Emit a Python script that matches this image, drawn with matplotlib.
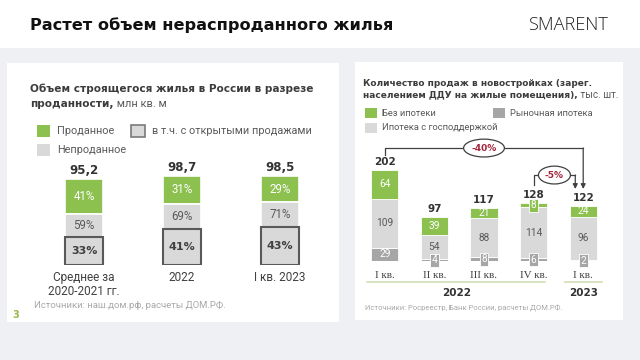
import matplotlib
matplotlib.use("Agg")
import matplotlib.pyplot as plt
from matplotlib.patches import Rectangle
import numpy as np

# ---------------- data ----------------
left_categories = ["Среднее за\n2020-2021 гг.", "2022", "I кв. 2023"]
left_totals = [95.2, 98.7, 98.5]
left_total_labels = ["95,2", "98,7", "98,5"]
sold_pct = [41, 31, 29]
unsold_pct = [59, 69, 71]
open_pct = [33, 41, 43]

quarters = ["I кв.", "II кв.", "III кв.", "IV кв.", "I кв."]
years = ["2022", "2023"]
no_mortgage = [64, 39, 21, 8, 24]
state_mortgage = [109, 54, 88, 114, 96]
market_mortgage = [29, 4, 8, 6, 2]
sales_totals = [202, 97, 117, 128, 122]
changes = ["-40%", "-5%"]

GREEN = '#8cc04f'
LGRAY = '#d9d9d9'
DGRAY = '#a6a6a6'
TXT = '#3c3c3c'
MUTED = '#595959'
REG = ['Roboto', 'DejaVu Sans']

W, H = 640, 360
fig = plt.figure(figsize=(6.4, 3.6), dpi=100)
fig.patch.set_facecolor('#eef0f3')
renderer = fig.canvas.get_renderer()

bg = fig.add_axes([0, 0, 1, 1], zorder=0)
bg.set_xlim(0, W)
bg.set_ylim(H, 0)
bg.axis('off')


def rect(x0, y0, x1, y1, **kw):
    bg.add_patch(Rectangle((x0, y0), x1 - x0, y1 - y0, **kw))


def size_for(s, width, size0=8, **kw):
    t = bg.text(0, 0, s, fontsize=size0, **kw)
    w = t.get_window_extent(renderer).width
    t.remove()
    return size0 * width / w


def fit(x, y, s, width, scale=1.0, **kw):
    return bg.text(x, y, s, fontsize=size_for(s, width, **kw) * scale, va='center', ha='left', **kw)


def after(t, s, size, **kw):
    bb = t.get_window_extent(renderer)
    return bg.text(bb.x1, t.get_position()[1], s, fontsize=size, va='center', ha='left', **kw)


def px_axes(x0, y0, x1, y1):
    a = fig.add_axes([x0 / W, 1 - y1 / H, (x1 - x0) / W, (y1 - y0) / H], zorder=2)
    a.patch.set_alpha(0)
    for sp in a.spines.values():
        sp.set_visible(False)
    a.set_yticks([])
    return a


# ---------------- background cards ----------------
rect(0, 0, 640, 48, fc='white', ec='none')
rect(7, 63, 339, 322, fc='white', ec='none')
rect(355, 62, 623, 320, fc='white', ec='none')

fit(30, 25, "Растет объем нераспроданного жилья", 362, fontweight='bold', color='#111111')
fit(528, 25, "SMARENT", 80, family='Open Sans', fontweight='light', color='#222222')

# ---------------- left panel texts ----------------
t1 = fit(30, 89, "Объем строящегося жилья в России в разрезе", 283, fontweight='bold', color=TXT)
fs_lt = t1.get_fontsize()
t2 = bg.text(30, 104, "проданности,", fontsize=fs_lt, fontweight='bold', color=TXT, va='center')
after(t2, " млн кв. м", fs_lt * 1.05, color=MUTED, family=REG)

lg = fit(152, 131, "в т.ч. с открытыми продажами", 146, scale=1.1, color=MUTED, family=REG)
fs_lg = lg.get_fontsize()
rect(37, 125, 50, 137, fc=GREEN, ec='none')
bg.text(57, 131, "Проданное", fontsize=fs_lg, color=MUTED, va='center', family=REG)
rect(131, 125, 145, 137, fc=LGRAY, ec='#7a7a7a', lw=1.2)
rect(37, 144, 50, 156, fc=LGRAY, ec='none')
bg.text(57, 150, "Непроданное", fontsize=fs_lg, color=MUTED, va='center', family=REG)

fit(34, 306, "Источники: наш.дом.рф, расчеты ДОМ.РФ.", 182, scale=1.05, color='#a8a8a8',
    family=REG)
bg.text(12, 315, "3", fontsize=7, fontweight='bold', color='#9ab84a', va='center')

# ---------------- right panel texts ----------------
r1 = fit(363, 83, "Количество продаж в новостройках (зарег.", 229, fontweight='bold', color=TXT)
fs_rt = r1.get_fontsize()
r2 = bg.text(363, 95, "населением ДДУ на жилые помещения),", fontsize=fs_rt, fontweight='bold',
             color=TXT, va='center')
after(r2, " тыс. шт.", fs_rt * 1.1, color=MUTED, family=REG)

rl = fit(382, 128, "Ипотека с господдержкой", 102, scale=1.15, color=MUTED, family=REG)
fs_rl = rl.get_fontsize()
rect(365, 108, 377, 118, fc=GREEN, ec='none')
bg.text(382, 113, "Без ипотеки", fontsize=fs_rl, color=MUTED, va='center', family=REG)
rect(493, 108, 505, 118, fc=DGRAY, ec='none')
bg.text(510, 113, "Рыночная ипотека", fontsize=fs_rl, color=MUTED, va='center', family=REG)
rect(365, 123, 377, 133, fc=LGRAY, ec='none')

fit(365, 308, "Источники: Росреестр, Банк России, расчеты ДОМ.РФ.", 189, scale=1.05,
    color='#a8a8a8', family=REG)

# ---------------- left chart ----------------
L_SCALE = 0.9  # px per unit
ax1 = px_axes(35, 165, 329, 265)
ax1.set_xlim(-0.5, 2.5)
ax1.set_ylim(0, 100 / L_SCALE)
xl = np.arange(len(left_totals))
tot = np.array(left_totals)
open_h = tot * np.array(open_pct) / 100
gray_h = tot * (np.array(unsold_pct) - np.array(open_pct)) / 100
green_h = tot * np.array(sold_pct) / 100
bw = 0.39
ax1.bar(xl, green_h, bottom=open_h + gray_h, width=bw, color=GREEN, edgecolor='white', linewidth=1.2)
ax1.bar(xl, gray_h, bottom=open_h, width=bw, color=LGRAY, edgecolor='white', linewidth=1.2)
ax1.bar(xl, open_h, width=bw, color=LGRAY, edgecolor='#595959', linewidth=1.5)
for i in xl:
    ax1.text(i, open_h[i] + gray_h[i] + green_h[i] / 2, f"{sold_pct[i]}%", color='white',
             ha='center', va='center', fontsize=8.3, family=REG)
    ax1.text(i, open_h[i] + gray_h[i] / 2, f"{unsold_pct[i]}%", color=MUTED,
             ha='center', va='center', fontsize=8.3, family=REG)
    ax1.text(i, open_h[i] / 2, f"{open_pct[i]}%", color='#404040', fontweight='bold',
             ha='center', va='center', fontsize=8)
    ax1.text(i, tot[i] + 9 / L_SCALE, left_total_labels[i], color='#333333', fontweight='bold',
             ha='center', va='center', fontsize=8.5)
ax1.set_xticks(xl, left_categories, fontsize=8.5, color='#404040', linespacing=1.15, family=REG)
ax1.tick_params(axis='x', length=0, pad=4)

# ---------------- right chart ----------------
R_SCALE = 0.45
ax2 = px_axes(360, 140, 608, 261)
ax2.set_xlim(-0.5, 4.5)
ax2.set_ylim(0, 121 / R_SCALE)
xr = np.arange(len(sales_totals))
mk = np.array(market_mortgage)
st = np.array(state_mortgage)
nm = np.array(no_mortgage)
rbw = 0.55
ax2.bar(xr, mk, width=rbw, color=DGRAY, edgecolor='white', linewidth=0.6)
ax2.bar(xr, st, bottom=mk, width=rbw, color=LGRAY, edgecolor='white', linewidth=0.6)
ax2.bar(xr, nm, bottom=mk + st, width=rbw, color=GREEN, edgecolor='white', linewidth=0.6)

small = 12
FS_SEG = 7.3
for i in xr:
    if mk[i] >= small:
        ax2.text(i, mk[i] / 2, str(mk[i]), color='white', ha='center', va='center',
                 fontsize=FS_SEG, family=REG)
    else:
        ax2.text(i, mk[i] / 2, str(mk[i]), color='white', ha='center', va='center',
                 fontsize=FS_SEG, family=REG,
                 bbox=dict(boxstyle='square,pad=0.15', fc=DGRAY, ec='white', lw=0.6))
    ax2.text(i, mk[i] + st[i] / 2, str(st[i]), color=MUTED, ha='center', va='center',
             fontsize=FS_SEG, family=REG)
    if nm[i] >= small:
        ax2.text(i, mk[i] + st[i] + nm[i] / 2, str(nm[i]), color='white', ha='center',
                 va='center', fontsize=FS_SEG, family=REG)
    else:
        ax2.text(i, mk[i] + st[i] + nm[i] / 2, str(nm[i]), color='white', ha='center',
                 va='center', fontsize=FS_SEG, family=REG,
                 bbox=dict(boxstyle='square,pad=0.15', fc=GREEN, ec='white', lw=0.6))
    ax2.text(i, sales_totals[i] + 8 / R_SCALE, str(sales_totals[i]), color='#333333',
             fontweight='bold', ha='center', va='center', fontsize=7.5)

ax2.set_xticks(xr, quarters, fontsize=8, color='#404040', family='Liberation Serif')
ax2.tick_params(axis='x', length=0, pad=7)

# year underlines + year labels
yl = -21 / R_SCALE
ax2.plot([-0.35, 3.22], [yl, yl], color='#d3deb4', lw=1.2, clip_on=False)
ax2.plot([3.63, 4.38], [yl, yl], color='#d3deb4', lw=1.2, clip_on=False)
ax2.text(1.45, -32 / R_SCALE, years[0], fontweight='bold', fontsize=7.5, color='#333333',
         ha='center', va='center', clip_on=False)
ax2.text(4, -32 / R_SCALE, years[1], fontweight='bold', fontsize=7.5, color='#333333',
         ha='center', va='center', clip_on=False)

# change brackets
LINEC = '#404040'
arrow_end = sales_totals[4] + 38
yb1 = sales_totals[0] + 49
ax2.plot([0, 0, 4], [sales_totals[0] + 34, yb1, yb1], color=LINEC, lw=0.9, clip_on=False)
ax2.annotate('', xy=(4, arrow_end), xytext=(4, yb1),
             arrowprops=dict(arrowstyle='-|>', color=LINEC, lw=0.9, shrinkA=0, shrinkB=0,
                             mutation_scale=7), annotation_clip=False)
ax2.text(2, yb1, changes[0], ha='center', va='center', color='#a3243b', fontweight='bold',
         fontsize=6.5, bbox=dict(boxstyle='ellipse,pad=0.2', fc='white', ec=LINEC, lw=0.9))
yb2 = sales_totals[3] + 63
ax2.plot([3, 3, 3.84], [sales_totals[3] + 41, yb2, yb2], color=LINEC, lw=0.9, clip_on=False)
ax2.annotate('', xy=(3.84, arrow_end), xytext=(3.84, yb2),
             arrowprops=dict(arrowstyle='-|>', color=LINEC, lw=0.9, shrinkA=0, shrinkB=0,
                             mutation_scale=7), annotation_clip=False)
ax2.text(3.42, yb2, changes[1], ha='center', va='center', color='#a3243b', fontweight='bold',
         fontsize=6.5, bbox=dict(boxstyle='ellipse,pad=0.2', fc='white', ec=LINEC, lw=0.9))

fig.savefig('out.png', dpi=100, facecolor=fig.get_facecolor())
